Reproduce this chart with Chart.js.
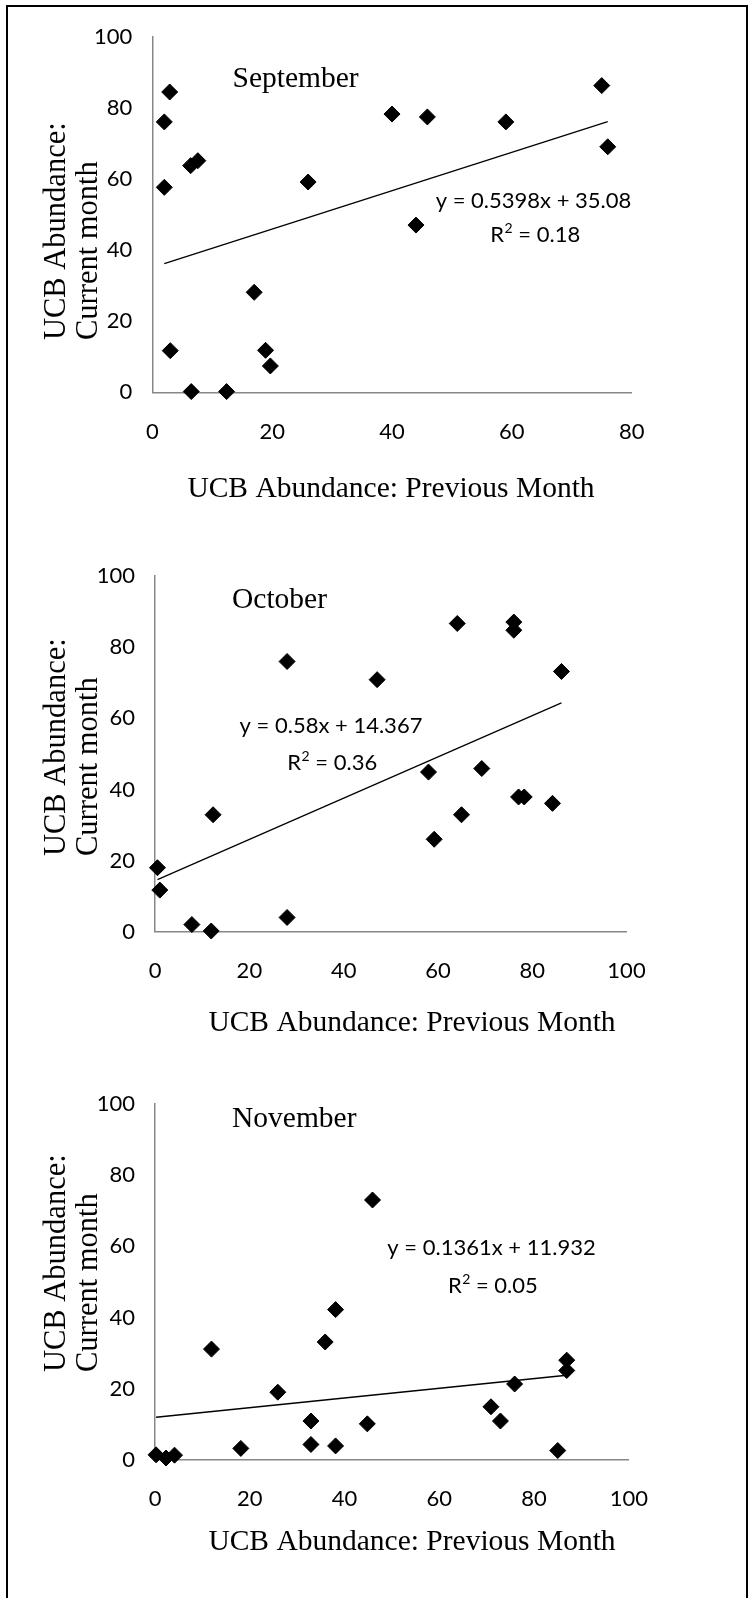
<!DOCTYPE html>
<html><head><meta charset="utf-8">
<script src="https://cdn.jsdelivr.net/npm/chart.js@4.4.1/dist/chart.umd.min.js"></script>
<style>
html,body{margin:0;padding:0;background:#fff;}
body{width:748px;height:1598px;position:relative;overflow:hidden;}
#frame{position:absolute;left:6px;top:5px;width:738px;height:1620px;border-top:2px solid #000;border-left:2px solid #000;border-right:2px solid #000;}
canvas{position:absolute;left:0;}
</style></head><body>
<div id="frame"></div>
<canvas id="c1" width="748" height="530" style="top:0px;width:748px;height:530px"></canvas>
<canvas id="c2" width="748" height="530" style="top:530px;width:748px;height:530px"></canvas>
<canvas id="c3" width="748" height="538" style="top:1060px;width:748px;height:538px"></canvas>
<script>
// ---- data ----
const months = ["September", "October", "November"];
const sepPrev = [2.0, 2.9, 2.0, 6.4, 7.6, 3.0, 6.5, 12.4, 17.0, 18.9, 19.7, 26.0, 40.0, 45.9, 44.0, 59.0, 75.0, 76.0];
const sepCurr = [76.0, 84.4, 57.6, 63.7, 65.1, 11.7, 0.2, 0.2, 28.1, 11.8, 7.4, 59.1, 78.2, 77.4, 47.0, 76.0, 86.2, 69.0];
const octPrev = [0.5, 1.0, 7.8, 11.9, 12.3, 28.0, 28.0, 47.1, 58.0, 59.2, 64.1, 65.0, 69.3, 76.1, 76.1, 77.1, 78.3, 84.3, 86.2];
const octCurr = [18.0, 11.7, 2.0, 0.2, 32.9, 4.0, 76.0, 70.9, 44.9, 26.0, 86.7, 32.9, 45.9, 87.1, 84.8, 37.9, 37.9, 36.1, 73.2];
const novPrev = [0.2, 2.3, 4.1, 11.9, 18.1, 25.9, 32.9, 32.9, 35.9, 38.1, 38.1, 44.8, 45.9, 70.9, 72.9, 75.9, 85.0, 86.9, 86.9];
const novCurr = [1.4, 0.5, 1.3, 31.1, 3.2, 19.0, 10.9, 4.3, 33.1, 42.2, 3.9, 10.1, 73.0, 14.9, 10.9, 21.3, 2.6, 28.0, 25.1];
const slopes = [0.5398, 0.58, 0.1361];
const intercepts = [35.08, 14.367, 11.932];
const equations = ["y = 0.5398x + 35.08", "y = 0.58x + 14.367", "y = 0.1361x + 11.932"];
const r2Values = ["0.18", "0.36", "0.05"];
const xMaxes = [80, 100, 100];
const yMax = 100;
const tickStep = 20;
const xAxisTitle = "UCB Abundance: Previous Month";
const yAxisTitle = ["UCB Abundance:", "Current month"];

const SERIF = '"Liberation Serif", "Times New Roman", serif';
const SANS = 'Lato, Calibri, "Open Sans", sans-serif';

const annotPlugin = {
  id: 'annot',
  afterDatasetsDraw(chart, args, o) {
    const ctx = chart.ctx;
    ctx.save();
    ctx.fillStyle = '#000';
    ctx.textBaseline = 'alphabetic';
    // month label
    ctx.font = '29.5px ' + SERIF;
    ctx.textAlign = 'left';
    ctx.fillText(o.month, o.monthX, o.monthY);
    // equation
    ctx.font = '22px ' + SANS;
    ctx.textAlign = 'center';
    ctx.fillText(o.eq, o.eqX, o.eqY);
    // R^2
    ctx.textAlign = 'left';
    ctx.font = '22px ' + SANS;
    const wR = ctx.measureText('R').width;
    const rest = ' = ' + o.r2;
    const wRest = ctx.measureText(rest).width;
    ctx.font = '14px ' + SANS;
    const w2 = ctx.measureText('2').width;
    let x0 = o.r2X - (wR + w2 + wRest) / 2;
    ctx.font = '22px ' + SANS;
    ctx.fillText('R', x0, o.r2Y);
    ctx.font = '14px ' + SANS;
    ctx.fillText('2', x0 + wR + 0.5, o.r2Y - 9);
    ctx.font = '22px ' + SANS;
    ctx.fillText(rest, x0 + wR + w2 + 0.5, o.r2Y);
    // x title
    ctx.font = '29.5px ' + SERIF;
    ctx.textAlign = 'center';
    ctx.fillText(o.xTitle, o.xtX, o.xtY);
    // y title (rotated, start aligned)
    ctx.font = '30.5px ' + SERIF;
    ctx.textAlign = 'left';
    o.yTitle.forEach((line, i) => {
      ctx.save();
      ctx.translate(o.ytX[i], o.ytY);
      ctx.rotate(-Math.PI / 2);
      ctx.fillText(line, 0, 0);
      ctx.restore();
    });
    ctx.restore();
  }
};

function makeChart(id, idx, prev, curr, L, T) {
  const canvas = document.getElementById(id);
  const H = canvas.height;
  const xLo = Math.min(...prev), xHi = Math.max(...prev);
  const m = slopes[idx], b = intercepts[idx];
  const XH = 60;
  new Chart(canvas, {
    type: 'scatter',
    data: {
      datasets: [
        {
          data: prev.map((x, i) => ({ x: x, y: curr[i] })),
          pointStyle: 'rectRot', pointRadius: 8, pointHoverRadius: 8,
          backgroundColor: '#000', borderColor: '#000', borderWidth: 1,
          clip: false, order: 2
        },
        {
          type: 'line',
          data: [{ x: xLo, y: m * xLo + b }, { x: xHi, y: m * xHi + b }],
          borderColor: '#000', borderWidth: 1.3, pointRadius: 0, fill: false,
          clip: false, order: 1
        }
      ]
    },
    options: {
      responsive: false, animation: false, devicePixelRatio: 1,
      events: [],
      layout: { padding: { left: 0, top: L.top, right: 748 - L.right, bottom: H - L.bottom - XH } },
      scales: {
        x: {
          type: 'linear', min: 0, max: xMaxes[idx],
          ticks: { stepSize: tickStep, padding: 26, color: '#000', font: { family: SANS, size: 22 } },
          grid: { display: false, drawTicks: false },
          border: { display: true, color: '#878787', width: 1.5 },
          afterFit: s => { s.height = XH; }
        },
        y: {
          type: 'linear', min: 0, max: yMax,
          ticks: { stepSize: tickStep, padding: 20, color: '#000', font: { family: SANS, size: 22 } },
          grid: { display: false, drawTicks: false },
          border: { display: true, color: '#878787', width: 1.5 },
          afterFit: s => { s.width = L.left; }
        }
      },
      plugins: {
        legend: { display: false },
        tooltip: { enabled: false },
        annot: Object.assign({
          month: months[idx], eq: equations[idx], r2: r2Values[idx],
          xTitle: xAxisTitle, yTitle: yAxisTitle
        }, T)
      }
    },
    plugins: [annotPlugin]
  });
}

makeChart('c1', 0, sepPrev, sepCurr,
  { left: 152.3, right: 631.7, top: 36.5, bottom: 392.3 },
  { monthX: 232.5, monthY: 86.7, eqX: 533.5, eqY: 207.5, r2X: 535, r2Y: 242,
    xtX: 391, xtY: 496.5, ytX: [65, 97], ytY: 340 });

makeChart('c2', 1, octPrev, octCurr,
  { left: 155.1, right: 626.5, top: 46.2, bottom: 401.7 },
  { monthX: 232, monthY: 78, eqX: 331, eqY: 202.5, r2X: 332, r2Y: 240,
    xtX: 412, xtY: 501, ytX: [65, 97], ytY: 326 });

makeChart('c3', 2, novPrev, novCurr,
  { left: 155.1, right: 628.8, top: 43.9, bottom: 399.8 },
  { monthX: 232, monthY: 66.6, eqX: 491.5, eqY: 195, r2X: 492.6, r2Y: 233,
    xtX: 412, xtY: 490, ytX: [65, 97], ytY: 312 });
</script>
</body></html>
